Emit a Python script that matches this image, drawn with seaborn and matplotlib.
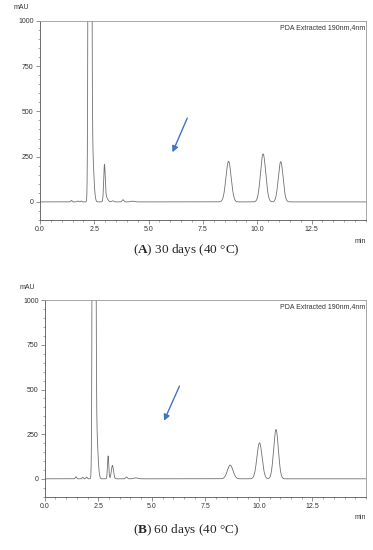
import numpy as np
import pandas as pd
import matplotlib.pyplot as plt
import seaborn as sns
from matplotlib.ticker import MultipleLocator

# peak tables (retention time min, height mAU, width sigma)
rt_a = [1.45, 1.75, 1.9, 2.3, 2.4, 2.97, 3.05, 3.35, 3.82, 4.25, 8.68, 10.27, 11.08]
height_a = [8, 5, 5, 20000, 300, 195, 25, 6, 12, 4, 224, 265, 222]
sigma_a = [0.03, 0.03, 0.03, 0.04, 0.07, 0.035, 0.07, 0.05, 0.04, 0.08, 0.12, 0.12, 0.11]

rt_b = [1.46, 1.78, 1.95, 2.3, 2.4, 2.96, 3.16, 3.82, 4.25, 8.66, 10.03, 10.8]
height_b = [12, 8, 10, 20000, 300, 128, 75, 10, 5, 77, 201, 276]
sigma_b = [0.03, 0.03, 0.03, 0.04, 0.07, 0.03, 0.05, 0.04, 0.1, 0.13, 0.12, 0.11]

captions = [("A", " 30 days (40 °C)"), ("B", " 60 days (40 °C)")]
arrows = [((6.78, 463), (6.1, 274)), ((6.29, 519), (5.57, 325))]

t = np.linspace(0, 15, 4001)


def trace(rt, h, s):
    y = np.zeros_like(t)
    for r, hh, ss in zip(rt, h, s):
        y += hh * np.exp(-0.5 * ((t - r) / ss) ** 2)
    return pd.DataFrame({"min": t, "mAU": y})


sns.set_style("ticks")
plt.rcParams["font.family"] = ["Liberation Sans", "DejaVu Sans"]
plt.rcParams["mathtext.fontset"] = "custom"
plt.rcParams["mathtext.rm"] = "Liberation Serif"
plt.rcParams["mathtext.bf"] = "Liberation Serif:bold"

fig = plt.figure(figsize=(3.73, 5.50), dpi=100)
ax_a = fig.add_axes([0.107, 0.600, 0.874, 0.362])
ax_b = fig.add_axes([0.120, 0.097, 0.861, 0.357])

data = [trace(rt_a, height_a, sigma_a), trace(rt_b, height_b, sigma_b)]
cap_y = [0.545, 0.036]

for ax, df, (letter, rest), (tail, head), cy in zip([ax_a, ax_b], data, captions, arrows, cap_y):
    sns.lineplot(data=df, x="min", y="mAU", ax=ax, color="#707070", linewidth=0.6)
    ax.set_xlim(0, 15)
    ax.set_ylim(-100, 1000)
    ax.set_xlabel("")
    ax.set_ylabel("")
    ax.set_xticks([0, 2.5, 5, 7.5, 10, 12.5])
    ax.set_xticklabels(["0.0", "2.5", "5.0", "7.5", "10.0", "12.5"])
    ax.set_yticks([0, 250, 500, 750, 1000])
    ax.xaxis.set_minor_locator(MultipleLocator(0.5))
    ax.yaxis.set_minor_locator(MultipleLocator(50))
    ax.tick_params(which="major", labelsize=5, length=3, width=0.5, color="#666666",
                   labelcolor="#333333", pad=1.5)
    ax.tick_params(which="minor", length=1.5, width=0.4, color="#666666")
    for sp in ax.spines.values():
        sp.set_linewidth(0.6)
        sp.set_color("#999999")
    ax.spines["left"].set_color("#555555")
    ax.spines["bottom"].set_color("#555555")
    ax.text(-0.08, 1.06, "mAU", transform=ax.transAxes, fontsize=5, color="#333333")
    ax.text(1.0, -0.09, "min", transform=ax.transAxes, fontsize=5, color="#333333",
            ha="right", va="top")
    ax.text(0.999, 0.985, "PDA Extracted 190nm,4nm", transform=ax.transAxes,
            fontsize=5, color="#333333", ha="right", va="top")
    ax.annotate("", xy=head, xytext=tail,
                arrowprops=dict(arrowstyle="-|>", color="#4472C4", lw=1.0,
                                mutation_scale=9, shrinkA=0, shrinkB=0))
    fig.text(0.5, cy, r"($\mathbf{" + letter + r"}$)" + rest, ha="center", va="center",
             fontsize=9.5, family="Liberation Serif")

fig.savefig("out.png", dpi=100, facecolor="white")
